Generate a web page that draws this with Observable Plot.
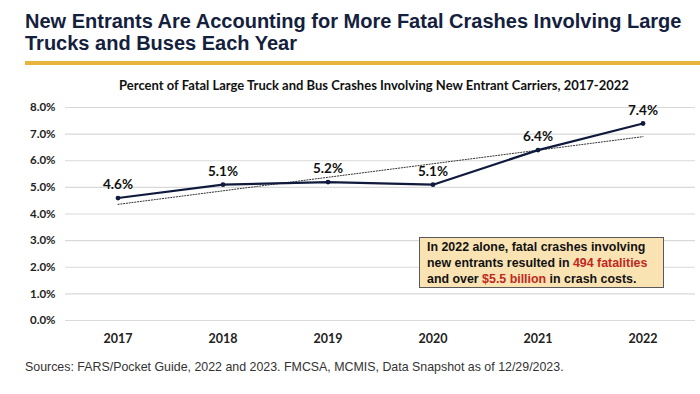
<!DOCTYPE html>
<html>
<head>
<meta charset="utf-8">
<script src="https://cdn.jsdelivr.net/npm/d3@7"></script>
<script src="https://cdn.jsdelivr.net/npm/@observablehq/plot@0.6"></script>
<style>
  html, body { margin: 0; padding: 0; background: #fff; }
  #page { position: relative; width: 700px; height: 394px; overflow: hidden; }
  #title { position: absolute; left: 25px; top: 10px; width: 675px; font-family: "Liberation Sans", Arial, sans-serif; font-weight: bold; font-size: 20px; line-height: 22px; color: #14213d; }
  #rule { position: absolute; left: 25px; top: 61px; width: 675px; height: 4px; background: #e8b33e; }
  #subtitle { position: absolute; left: 0; top: 77px; width: 748px; text-align: center; font-family: Lato, "Open Sans", sans-serif; font-weight: bold; font-size: 13px; color: #111; }
  #chart { position: absolute; left: 0; top: 95px; }
  #note { position: absolute; left: 419px; top: 237px; width: 236px; height: 48px; background: #fae3b3; border: 1px solid #595959; box-sizing: content-box; font-family: "Liberation Sans", Arial, sans-serif; font-weight: bold; font-size: 12.4px; line-height: 16px; color: #111; padding: 1px 0 0 7px; white-space: nowrap; }
  #note .hl { color: #c0281e; }
  #source { position: absolute; left: 25px; top: 360px; font-family: "Liberation Sans", Arial, sans-serif; font-size: 12.4px; color: #333; }
</style>
</head>
<body>
<div id="page">
  <div id="title"></div>
  <div id="rule"></div>
  <div id="subtitle"></div>
  <div id="chart"></div>
  <div id="note"></div>
  <div id="source"></div>
</div>
<script>
const titleLines = ["New Entrants Are Accounting for More Fatal Crashes Involving Large", "Trucks and Buses Each Year"];
const subtitleText = "Percent of Fatal Large Truck and Bus Crashes Involving New Entrant Carriers, 2017-2022";
const sourceText = "Sources: FARS/Pocket Guide, 2022 and 2023. FMCSA, MCMIS, Data Snapshot as of 12/29/2023.";
const years = [2017, 2018, 2019, 2020, 2021, 2022];
const percents = [4.6, 5.1, 5.2, 5.1, 6.4, 7.4];
const yTicks = [0, 1, 2, 3, 4, 5, 6, 7, 8];
// annotation text segments: [text, highlighted?]
const noteLines = [
  [["In 2022 alone, fatal crashes involving", false]],
  [["new entrants resulted in ", false], ["494 fatalities", true]],
  [["and over ", false], ["$5.5 billion", true], [" in crash costs.", false]]
];

const titleEl = document.getElementById("title");
titleLines.forEach(t => { const d = document.createElement("div"); d.textContent = t; titleEl.appendChild(d); });
document.getElementById("subtitle").textContent = subtitleText;
document.getElementById("source").textContent = sourceText;
const note = document.getElementById("note");
noteLines.forEach(line => {
  const div = document.createElement("div");
  line.forEach(([t, hl]) => {
    const s = document.createElement("span");
    s.textContent = t;
    if (hl) s.className = "hl";
    div.appendChild(s);
  });
  note.appendChild(div);
});

const data = years.map((year, i) => ({year, value: percents[i]}));
const navy = "#0f1a3c";
const calib = "Lato, 'Open Sans', sans-serif";

const chart = Plot.plot({
  width: 700,
  height: 255,
  marginTop: 12,
  marginBottom: 30,
  marginLeft: 65,
  marginRight: 5,
  style: {fontFamily: calib, fontSize: "11.5px", fontWeight: "bold", color: "#222", background: "transparent"},
  x: {domain: [2016.5, 2022.5]},
  y: {domain: [0, 8]},
  marks: [
    Plot.gridY(yTicks, {stroke: "#d9d9d9", strokeOpacity: 1, strokeWidth: 1.2}),
    Plot.axisY(yTicks, {tickSize: 0, tickPadding: 10, tickFormat: d => d.toFixed(1) + "%", label: null, fontSize: 11.5, fontWeight: "bold"}),
    Plot.axisX(years, {tickSize: 0, tickPadding: 14, tickFormat: d => String(d), label: null, fontSize: 12.5, fontWeight: "bold"}),
    Plot.linearRegressionY(data, {x: "year", y: "value", stroke: "#333", strokeWidth: 1, strokeDasharray: "1.2,1.6", ci: 0}),
    Plot.line(data, {x: "year", y: "value", stroke: navy, strokeWidth: 2.2}),
    Plot.dot(data, {x: "year", y: "value", r: 2.4, fill: navy, stroke: "none"}),
    Plot.text(data, {x: "year", y: "value", text: d => d.value.toFixed(1) + "%", dy: -13, fontSize: 13.5, fontWeight: "bold", fill: "#111", fontFamily: calib})
  ]
});
document.getElementById("chart").appendChild(chart);
</script>
</body>
</html>
